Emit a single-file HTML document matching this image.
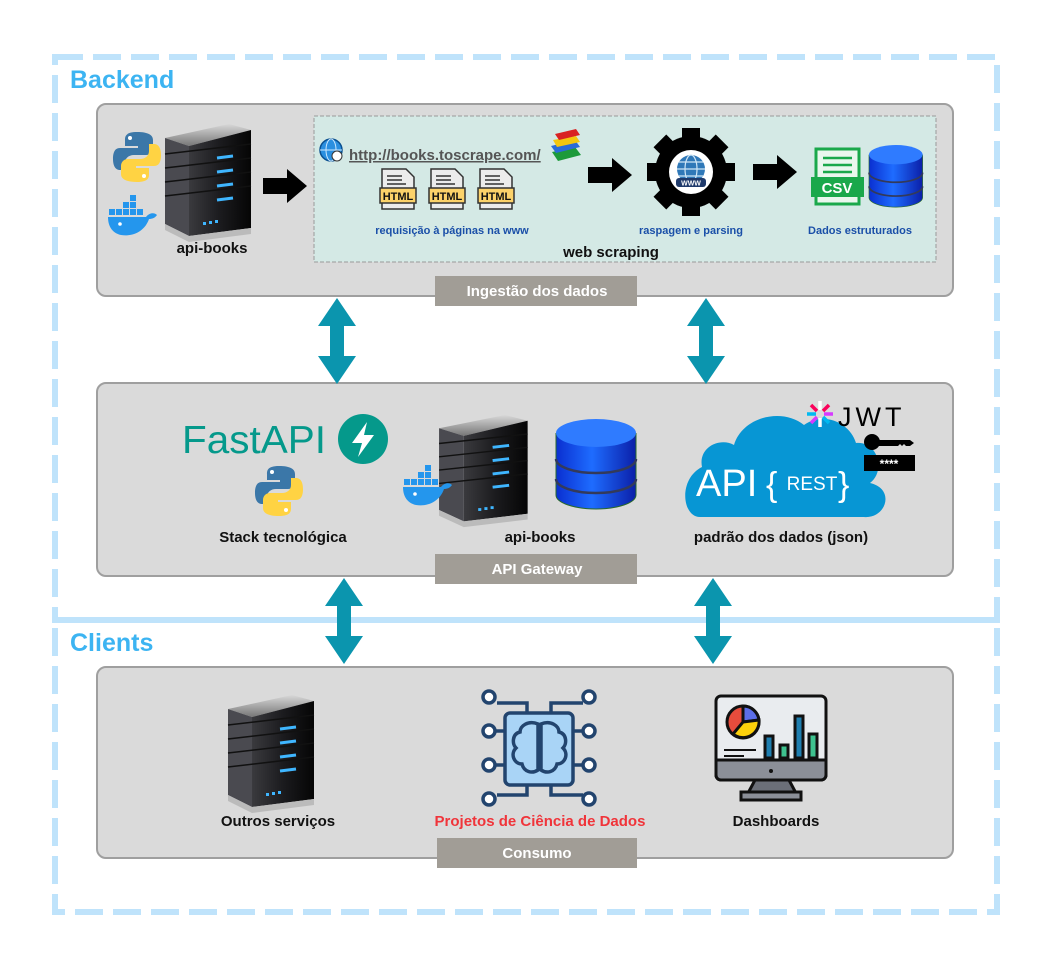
<!DOCTYPE html>
<html><head><meta charset="utf-8"><style>
html,body{margin:0;padding:0;background:#fff;}
svg{display:block;font-family:"Liberation Sans",Arial,sans-serif;}
</style></head><body>
<svg width="1052" height="959" viewBox="0 0 1052 959" xmlns="http://www.w3.org/2000/svg">
<defs>
  <linearGradient id="srvBody" x1="0" x2="1" y1="0" y2="0">
    <stop offset="0" stop-color="#3a3a3e"/><stop offset="0.5" stop-color="#1b1b1e"/><stop offset="1" stop-color="#050505"/>
  </linearGradient>
  <linearGradient id="srvTop" x1="0" x2="0" y1="0" y2="1">
    <stop offset="0" stop-color="#d8d8d8"/><stop offset="1" stop-color="#777"/>
  </linearGradient>
  <linearGradient id="dbG" x1="0" x2="1">
    <stop offset="0" stop-color="#0a2fd0"/><stop offset="0.45" stop-color="#1e6cff"/><stop offset="1" stop-color="#0b1fa8"/>
  </linearGradient>
  <g id="server">
    <polygon points="2,14 66,0 88,6 26,22" fill="url(#srvTop)"/>
    <polygon points="2,14 26,22 26,112 2,100" fill="#4a4a50"/>
    <polygon points="26,22 88,6 88,104 26,112" fill="url(#srvBody)"/>
    <g stroke="#111" stroke-width="1.5">
      <line x1="2" y1="30" x2="88" y2="20"/><line x1="2" y1="44" x2="88" y2="34"/>
      <line x1="2" y1="58" x2="88" y2="48"/><line x1="2" y1="72" x2="88" y2="62"/>
    </g>
    <g stroke="#3fb6ff" stroke-width="3">
      <line x1="54" y1="34" x2="70" y2="32"/><line x1="54" y1="48" x2="70" y2="46"/>
      <line x1="54" y1="62" x2="70" y2="60"/><line x1="54" y1="76" x2="70" y2="74"/>
    </g>
    <g fill="#3fb6ff"><rect x="40" y="98" width="3" height="3"/><rect x="46" y="97" width="3" height="3"/><rect x="52" y="96" width="3" height="3"/></g>
    <polygon points="2,100 26,112 88,104 88,110 26,118 2,106" fill="#bbb"/>
  </g>
  <g id="db">
    <path d="M0,14 v62 a40,14 0 0 0 80,0 v-62" fill="url(#dbG)" stroke="#2a6a2a" stroke-width="1"/>
    <ellipse cx="40" cy="14" rx="40" ry="14" fill="#2f7bff"/>
    <path d="M0,40 a40,14 0 0 0 80,0" fill="none" stroke="#333a5a" stroke-width="2.5"/>
    <path d="M0,60 a40,14 0 0 0 80,0" fill="none" stroke="#333a5a" stroke-width="2.5"/>
  </g>
  <g id="python">
    <path d="M24,0 c-12,0 -12,5 -12,8 v6 h13 v2 h-18 c-6,0 -7,6 -7,11 c0,6 2,11 7,11 h5 v-7 c0,-5 4,-8 9,-8 h12 c4,0 7,-3 7,-7 v-8 c0,-5 -5,-8 -16,-8z" fill="#3b77a8"/>
    <path d="M24,50 c12,0 12,-5 12,-8 v-6 h-13 v-2 h18 c6,0 7,-6 7,-11 c0,-6 -2,-11 -7,-11 h-5 v7 c0,5 -4,8 -9,8 h-12 c-4,0 -7,3 -7,7 v8 c0,5 5,8 16,8z" fill="#ffd343"/>
    <circle cx="17" cy="6" r="2" fill="#fff"/><circle cx="31" cy="44" r="2" fill="#fff"/>
  </g>
  <g id="docker">
    <g fill="#2496ed">
      <rect x="8" y="10" width="6" height="6"/><rect x="15" y="10" width="6" height="6"/><rect x="22" y="10" width="6" height="6"/>
      <rect x="15" y="3" width="6" height="6"/><rect x="22" y="3" width="6" height="6"/><rect x="22" y="-4" width="6" height="6"/>
      <rect x="1" y="10" width="6" height="6"/><rect x="29" y="10" width="6" height="6"/>
      <path d="M0,18 h38 c3,-4 8,-5 11,-2 c-2,3 -5,4 -8,4 c-4,12 -16,18 -28,16 c-9,-2 -13,-9 -13,-18z"/>
    </g>
    <circle cx="12" cy="25" r="1.8" fill="#fff"/>
  </g>
  <g id="dblarrow">
    <polygon points="0,0 19,28 7,28 7,58 19,58 0,86 -19,58 -7,58 -7,28 -19,28" fill="#0b95ae"/>
  </g>
  <g id="html">
    <path d="M2,0 h24 l8,8 v32 h-32z" fill="#ececec" stroke="#333" stroke-width="1.5"/>
    <g stroke="#333" stroke-width="1.5"><line x1="7" y1="7" x2="22" y2="7"/><line x1="7" y1="11" x2="22" y2="11"/><line x1="7" y1="15" x2="26" y2="15"/></g>
    <rect x="0" y="19" width="36" height="15" fill="#fcd26a" stroke="#333" stroke-width="1.5"/>
    <text x="18" y="31" font-size="11" font-weight="bold" text-anchor="middle" fill="#111">HTML</text>
  </g>
  <g id="rarrow">
    <polygon points="0,-8 24,-8 24,-17 44,0 24,17 24,8 0,8" fill="#000"/>
  </g>
</defs>

<g fill="none" stroke="#bfe3fb" stroke-width="6" stroke-dasharray="28 10">
  <rect x="55" y="57" width="942" height="563"/>
  <rect x="55" y="620" width="942" height="292"/>
</g>
<text x="70" y="88" font-size="25" font-weight="bold" fill="#3cb4f2">Backend</text>
<text x="70" y="651" font-size="25" font-weight="bold" fill="#3cb4f2">Clients</text>

<g fill="#dadada" stroke="#9f9f9f" stroke-width="2">
  <rect x="97" y="104" width="856" height="192" rx="9"/>
  <rect x="97" y="383" width="856" height="193" rx="9"/>
  <rect x="97" y="667" width="856" height="191" rx="9"/>
</g>

<rect x="314" y="116" width="622" height="146" fill="#d4e9e5" stroke="#999" stroke-width="1" stroke-dasharray="4 2"/>

<use href="#python" x="113" y="132"/>
<use href="#docker" x="108" y="199"/>
<use href="#server" x="163" y="124"/>
<text x="212" y="253" font-size="15" font-weight="bold" text-anchor="middle" fill="#111">api-books</text>
<use href="#rarrow" x="263" y="186"/>

<circle cx="331" cy="150" r="11" fill="#2a8fe0" stroke="#0a4f8f" stroke-width="1.5"/>
<g stroke="#cde9ff" stroke-width="1" fill="none"><ellipse cx="331" cy="150" rx="5" ry="11"/><line x1="320" y1="150" x2="342" y2="150"/></g>
<circle cx="337" cy="156" r="5" fill="#fff" stroke="#333"/>
<text x="349" y="160" font-size="15" font-weight="bold" fill="#555" text-decoration="underline">http://books.toscrape.com/</text>
<g>
  <polygon points="552,152 575,147 581,155 558,161" fill="#1c9a3a"/>
  <polygon points="551,146 575,140 580,147 556,153" fill="#2a6bd8"/>
  <polygon points="553,140 576,136 580,142 557,147" fill="#f3c60f"/>
  <polygon points="555,134 576,129 580,135 559,140" fill="#d92222"/>
</g>
<use href="#html" x="380" y="169"/>
<use href="#html" x="429" y="169"/>
<use href="#html" x="478" y="169"/>
<text x="452" y="234" font-size="11" font-weight="bold" text-anchor="middle" fill="#1a4fa8">requisição à páginas na www</text>
<use href="#rarrow" x="588" y="175"/>

<g transform="translate(691,172)">
  <g fill="#000">
    <circle r="36"/>
    <g id="teeth"><rect x="-9" y="-44" width="18" height="16"/></g>
    <use href="#teeth" transform="rotate(45)"/><use href="#teeth" transform="rotate(90)"/><use href="#teeth" transform="rotate(135)"/>
    <use href="#teeth" transform="rotate(180)"/><use href="#teeth" transform="rotate(225)"/><use href="#teeth" transform="rotate(270)"/><use href="#teeth" transform="rotate(315)"/>
  </g>
  <circle r="22" fill="#fff"/>
  <circle r="14" cy="-3" fill="#2f78b8"/>
  <g stroke="#cfe6f6" stroke-width="1.2" fill="none"><ellipse cy="-3" rx="6" ry="14"/><line x1="-14" y1="-3" x2="14" y2="-3"/><line x1="-12" y1="-10" x2="12" y2="-10"/><line x1="-12" y1="4" x2="12" y2="4"/></g>
  <rect x="-15" y="6" width="30" height="9" rx="3" fill="#1f3a6b"/>
  <text y="13.5" font-size="7" font-weight="bold" text-anchor="middle" fill="#fff">WWW</text>
</g>
<text x="691" y="234" font-size="11" font-weight="bold" text-anchor="middle" fill="#1a4fa8">raspagem e parsing</text>
<use href="#rarrow" x="753" y="172"/>

<rect x="816" y="149" width="43" height="55" fill="#eaf7ee" stroke="#1aa84b" stroke-width="3"/>
<g stroke="#1aa84b" stroke-width="2.5"><line x1="823" y1="158" x2="852" y2="158"/><line x1="823" y1="165" x2="852" y2="165"/><line x1="823" y1="172" x2="852" y2="172"/></g>
<rect x="811" y="177" width="53" height="20" fill="#1aa84b"/>
<text x="837" y="193" font-size="15" font-weight="bold" text-anchor="middle" fill="#fff">CSV</text>
<use href="#db" transform="translate(869,145) scale(0.67,0.69)"/>
<text x="860" y="234" font-size="11" font-weight="bold" text-anchor="middle" fill="#1a4fa8">Dados estruturados</text>

<text x="611" y="257" font-size="15" font-weight="bold" text-anchor="middle" fill="#111">web scraping</text>

<rect x="435" y="276" width="202" height="30" fill="#a19d96"/>
<text x="537" y="296" font-size="15" font-weight="bold" text-anchor="middle" fill="#fff">Ingestão dos dados</text>

<use href="#dblarrow" x="337" y="298"/>
<use href="#dblarrow" x="706" y="298"/>
<use href="#dblarrow" x="344" y="578"/>
<use href="#dblarrow" x="713" y="578"/>

<text x="182" y="453" font-size="39" fill="#05998b" textLength="144" lengthAdjust="spacingAndGlyphs">FastAPI</text>
<circle cx="363" cy="439" r="25" fill="#05998b"/>
<polygon points="367,422 352,443 362,443 358,457 374,435 364,435" fill="#fff"/>
<use href="#python" x="255" y="466"/>
<text x="283" y="542" font-size="15" font-weight="bold" text-anchor="middle" fill="#111">Stack tecnológica</text>

<use href="#server" transform="translate(437,415) scale(1.03,0.95)"/>
<use href="#docker" x="403" y="469"/>
<use href="#db" x="556" y="419"/>
<text x="540" y="542" font-size="15" font-weight="bold" text-anchor="middle" fill="#111">api-books</text>

<path d="M700,517 c-18,0 -22,-38 2,-50 c-4,-20 18,-30 32,-22 c8,-28 48,-38 70,-20 c20,-14 46,-2 52,18 c22,-2 30,28 14,40 c26,6 16,36 -6,34z" fill="#0796d4"/>
<text x="696" y="496" font-size="38" fill="#fff">API</text>
<text x="766" y="496" font-size="34" fill="#fff">{</text>
<text x="812" y="490" font-size="19" text-anchor="middle" fill="#fff">REST</text>
<text x="838" y="496" font-size="34" fill="#fff">}</text>

<g transform="translate(820,414)" stroke-width="3.5">
  <line x1="0" y1="-13" x2="0" y2="-4" stroke="#fff"/>
  <line x1="0" y1="4" x2="0" y2="13" stroke="#fff"/>
  <line x1="-13" y1="0" x2="-4" y2="0" stroke="#00b9f1"/>
  <line x1="4" y1="0" x2="13" y2="0" stroke="#d63aff"/>
  <line x1="-9" y1="-9" x2="-3" y2="-3" stroke="#fb015b"/>
  <line x1="3" y1="3" x2="9" y2="9" stroke="#00b9f1"/>
  <line x1="9" y1="-9" x2="3" y2="-3" stroke="#fb015b"/>
  <line x1="-3" y1="3" x2="-9" y2="9" stroke="#d63aff"/>
</g>
<text x="838" y="426" font-size="27" fill="#000" letter-spacing="4">JWT</text>
<circle cx="872" cy="442" r="8" fill="#000"/>
<path d="M878,440 h32 l4,3 l-4,3 h-4 l-2,-2 l-2,2 l-2,-2 l-2,2 h-20z" fill="#000"/>
<rect x="864" y="455" width="51" height="16" fill="#000"/>
<text x="889" y="468" font-size="12" font-weight="bold" text-anchor="middle" fill="#fff">****</text>
<text x="781" y="542" font-size="15" font-weight="bold" text-anchor="middle" fill="#111">padrão dos dados (json)</text>

<rect x="435" y="554" width="202" height="30" fill="#a19d96"/>
<text x="537" y="574" font-size="15" font-weight="bold" text-anchor="middle" fill="#fff">API Gateway</text>

<use href="#server" x="226" y="695"/>
<text x="278" y="826" font-size="15" font-weight="bold" text-anchor="middle" fill="#111">Outros serviços</text>

<g stroke="#22446e" stroke-width="3.5" fill="none">
  <rect x="505" y="713" width="68" height="72" rx="5" fill="#a9d4f6"/>
  <path d="M538,724 c-10,-4 -18,2 -18,8 c-8,2 -8,12 -4,16 c-6,6 -2,16 6,16 c2,8 10,10 16,6z"/>
  <path d="M541,724 c10,-4 18,2 18,8 c8,2 8,12 4,16 c6,6 2,16 -6,16 c-2,8 -10,10 -16,6z"/>
  <path d="M527,713 v-10 h-30"/><path d="M551,713 v-10 h32"/>
  <path d="M527,785 v10 h-30"/><path d="M551,785 v10 h32"/>
  <line x1="505" y1="731" x2="495" y2="731"/><line x1="505" y1="765" x2="495" y2="765"/>
  <line x1="573" y1="731" x2="583" y2="731"/><line x1="573" y1="765" x2="583" y2="765"/>
  <circle cx="489" cy="697" r="6" fill="#fff"/><circle cx="589" cy="697" r="6" fill="#fff"/>
  <circle cx="489" cy="731" r="6" fill="#fff"/><circle cx="589" cy="731" r="6" fill="#fff"/>
  <circle cx="489" cy="765" r="6" fill="#fff"/><circle cx="589" cy="765" r="6" fill="#fff"/>
  <circle cx="489" cy="799" r="6" fill="#fff"/><circle cx="589" cy="799" r="6" fill="#fff"/>
</g>
<text x="540" y="826" font-size="15" font-weight="bold" text-anchor="middle" fill="#f0343a">Projetos de Ciência de Dados</text>

<g stroke="#111" stroke-width="3">
  <polygon points="755,780 789,780 797,795 747,795" fill="#6b6f78"/>
  <rect x="741" y="792" width="60" height="8" fill="#8b8f98"/>
  <rect x="716" y="696" width="110" height="84" rx="5" fill="#e9ecef"/>
  <path d="M716,760 h110 v15 a5,5 0 0 1 -5,5 h-100 a5,5 0 0 1 -5,-5z" fill="#8b8f98"/>
  <circle cx="743" cy="722" r="16" fill="#e74c3c"/>
  <path d="M743,722 v-16 a16,16 0 0 1 16,14z" fill="#5c6ee8"/>
  <path d="M743,722 l16,-2 a16,16 0 0 1 -26,14z" fill="#fcd00b"/>
  <rect x="765" y="736" width="8" height="22" fill="#1f7fb0"/>
  <rect x="780" y="745" width="8" height="13" fill="#3ec28f"/>
  <rect x="795" y="716" width="8" height="42" fill="#1f7fb0"/>
  <rect x="809" y="734" width="8" height="24" fill="#3ec28f"/>
  <line x1="724" y1="750" x2="756" y2="750" stroke-width="2"/>
  <line x1="724" y1="756" x2="744" y2="756" stroke-width="2"/>
</g>
<circle cx="771" cy="771" r="2" fill="#111"/>
<text x="776" y="826" font-size="15" font-weight="bold" text-anchor="middle" fill="#111">Dashboards</text>

<rect x="437" y="838" width="200" height="30" fill="#a19d96"/>
<text x="537" y="858" font-size="15" font-weight="bold" text-anchor="middle" fill="#fff">Consumo</text>
</svg>
</body></html>
